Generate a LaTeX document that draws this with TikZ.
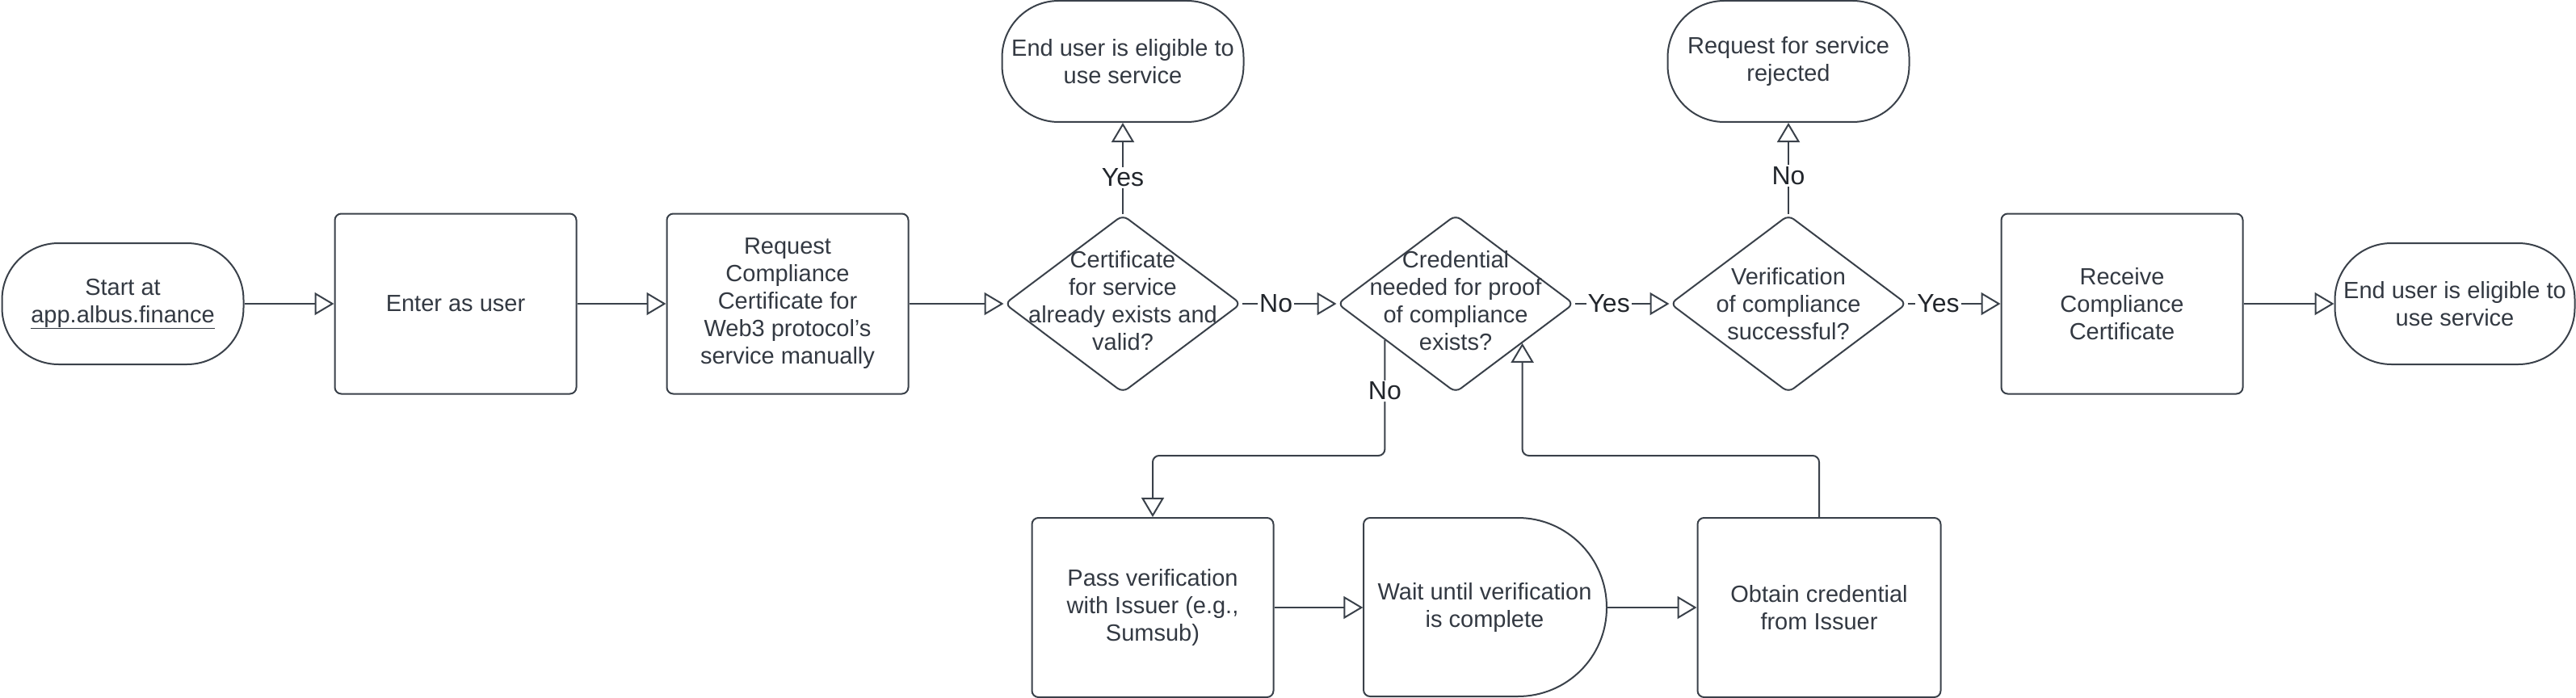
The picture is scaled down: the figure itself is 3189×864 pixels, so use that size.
\documentclass[tikz,border=0pt]{standalone}
\usepackage{fontspec}
\setmainfont{Liberation Sans}
\usetikzlibrary{shapes.geometric,arrows.meta,calc}
\definecolor{textc}{RGB}{51,57,66}
\definecolor{linec}{RGB}{58,65,74}
\definecolor{labc}{RGB}{34,38,44}
\tikzset{
  base/.style={draw=linec, line width=2pt, inner sep=0pt, font=\fontsize{29}{34}\selectfont, text=textc, align=center},
  term/.style={base, rectangle, rounded corners=70pt, minimum width=299pt, minimum height=150pt},
  procbox/.style={base, rectangle, rounded corners=8pt, minimum width=299pt, minimum height=223pt},
  dia/.style={draw=linec, line width=2pt, diamond, rounded corners=8pt, minimum width=293pt, minimum height=220pt, inner sep=0pt},
  dtext/.style={font=\fontsize{29}{34}\selectfont, text=textc, align=center, inner sep=0pt},
  conn/.style={draw=linec, line width=2pt, -{Triangle[length=24pt, width=28pt, fill=white, line width=2pt]}},
  lab/.style={fill=white, inner sep=2pt, font=\fontsize{32}{36}\selectfont, text=labc}
}
\begin{document}
\begin{tikzpicture}[x=1pt, y=-1pt]
\useasboundingbox (0,0) rectangle (3189,864);
% main row
\node[term] (start) at (152,376) {Start at\\\underline{app.albus.finance}};
\node[procbox] (enter) at (564,376) {Enter as user};
\node[procbox] (req) at (975,376) {Request\\Compliance\\Certificate for\\Web3 protocol's\\service manually};
\node[dia] (d1) at (1390,376) {};
\node[dtext] (d1t) at (1390,372) {Certificate\\for service\\already exists and\\valid?};
\node[term] (top1) at (1390,76) {End user is eligible to\\use service};
\node[dia] (d2) at (1802,376) {};
\node[dtext] (d2t) at (1802,372) {Credential\\needed for proof\\of compliance\\exists?};
\node[dia] (d3) at (2214,376) {};
\node[dtext] (d3t) at (2214,376) {Verification\\of compliance\\successful?};
\node[term] (top2) at (2214,76) {Request for service\\rejected};
\node[procbox] (rec) at (2627,376) {Receive\\Compliance\\Certificate};
\node[term, minimum width=297pt] (endn) at (3039,376) {End user is eligible to\\use service};
% bottom row
\node[procbox, minimum height=222pt] (pass) at (1427,752) {Pass verification\\with Issuer (e.g.,\\Sumsub)};
\node[dtext, minimum width=301pt, minimum height=221pt] (wait) at (1838,752) {Wait until verification\\is complete};
\draw[draw=linec, line width=2pt, rounded corners=8pt]
  (1879,641) -- (1688,641) -- (1688,862) -- (1879,862);
\draw[draw=linec, line width=2pt]
  (1879,641) .. controls (1939.75,641) and (1989,690.7) .. (1989,752)
  .. controls (1989,813.3) and (1939.75,862) .. (1879,862);
\node[procbox, minimum width=301pt, minimum height=222pt] (obt) at (2252,752) {Obtain credential\\from Issuer};
% connectors
\draw[conn] (start) -- (enter);
\draw[conn] (enter) -- (req);
\draw[conn] (req) -- (d1);
\draw[conn] (d1.north) -- node[lab, pos=0.4] {Yes} (top1.south);
\draw[conn] (d1.east) -- node[lab, pos=0.36] {No} (d2.west);
\draw[conn] (d2.east) -- node[lab, pos=0.36] {Yes} (d3.west);
\draw[conn] (d3.north) -- node[lab, pos=0.42] {No} (top2.south);
\draw[conn] (d3.east) -- node[lab, pos=0.33] {Yes} (rec.west);
\draw[conn] (rec) -- (endn);
\coordinate (p) at ($(d2.south)!0.594!(d2.west)$);
\coordinate (q) at ($(d2.south)!0.56!(d2.east)$);
\coordinate (midy) at (0,564);
\draw[conn, rounded corners=8pt] (p) -- node[lab, pos=0.44] {No} (p |- midy) -- (pass.north |- midy) -- (pass.north);
\draw[conn, rounded corners=8pt] (obt.north) -- (obt.north |- midy) -- (q |- midy) -- (q);
\draw[conn] (pass) -- (wait);
\draw[conn] (wait) -- (obt);
\end{tikzpicture}
\end{document}
